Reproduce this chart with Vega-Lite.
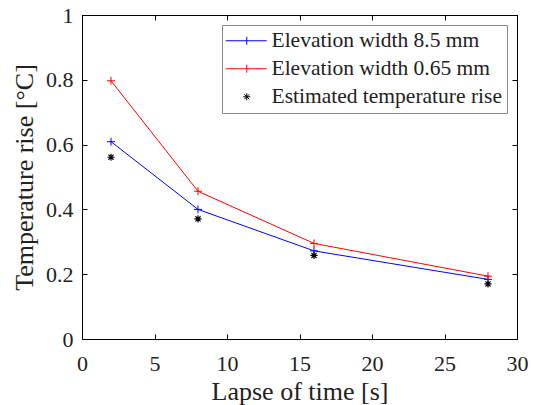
{
  "$schema": "https://vega.github.io/schema/vega-lite/v6.json",
  "width": 435,
  "height": 324,
  "autosize": {"type": "none"},
  "padding": {"left": 82, "top": 15, "right": 18, "bottom": 66},
  "background": "white",
  "config": {
    "font": "Liberation Serif",
    "view": {"stroke": "black", "strokeWidth": 1},
    "axis": {
      "grid": false,
      "domainColor": "black",
      "tickColor": "black",
      "labelColor": "#222222",
      "titleColor": "#222222",
      "labelFont": "Liberation Serif",
      "titleFont": "Liberation Serif",
      "labelFontSize": 22,
      "titleFontSize": 26,
      "titleFontWeight": "normal",
      "tickSize": -5,
      "labelFlush": false,
      "labelOverlap": false
    }
  },
  "data": {
    "values": [
      {"t": 2, "rise": 0.609, "series": "Elevation width 8.5 mm"},
      {"t": 8, "rise": 0.400, "series": "Elevation width 8.5 mm"},
      {"t": 16, "rise": 0.272, "series": "Elevation width 8.5 mm"},
      {"t": 28, "rise": 0.184, "series": "Elevation width 8.5 mm"},
      {"t": 2, "rise": 0.797, "series": "Elevation width 0.65 mm"},
      {"t": 8, "rise": 0.456, "series": "Elevation width 0.65 mm"},
      {"t": 16, "rise": 0.295, "series": "Elevation width 0.65 mm"},
      {"t": 28, "rise": 0.194, "series": "Elevation width 0.65 mm"},
      {"t": 2, "rise": 0.561, "series": "Estimated temperature rise"},
      {"t": 8, "rise": 0.371, "series": "Estimated temperature rise"},
      {"t": 16, "rise": 0.258, "series": "Estimated temperature rise"},
      {"t": 28, "rise": 0.170, "series": "Estimated temperature rise"}
    ]
  },
  "layer": [
    {
      "transform": [{"filter": "datum.series !== 'Estimated temperature rise'"}],
      "mark": {"type": "line", "strokeWidth": 1},
      "encoding": {
        "x": {
          "field": "t", "type": "quantitative",
          "scale": {"domain": [0, 30], "nice": false},
          "axis": {"title": "Lapse of time [s]", "values": [0, 5, 10, 15, 20, 25, 30], "labelPadding": 19, "titlePadding": 4}
        },
        "y": {
          "field": "rise", "type": "quantitative",
          "scale": {"domain": [0, 1], "nice": false},
          "axis": {"title": "Temperature rise [°C]", "values": [0, 0.2, 0.4, 0.6, 0.8, 1], "format": "~g", "labelPadding": 14, "titlePadding": 8}
        },
        "color": {
          "field": "series", "type": "nominal",
          "scale": {"domain": ["Elevation width 8.5 mm", "Elevation width 0.65 mm", "Estimated temperature rise"], "range": ["#0000ff", "#ff0000", "#000000"]},
          "legend": {
            "title": null,
            "orient": "top-right",
            "offset": 10,
            "strokeColor": "#888888",
            "fillColor": "white",
            "padding": 5,
            "symbolSize": 400,
            "symbolStrokeWidth": 1,
            "symbolFillColor": "transparent",
            "labelFont": "Liberation Serif",
            "labelFontSize": 21.5,
            "labelColor": "#222222",
            "labelLimit": 500,
            "labelOffset": 23,
            "rowPadding": 5,
            "encode": {
              "symbols": {
                "update": {
                  "shape": {"signal": "datum.value === 'Estimated temperature rise' ? 'M0.55,0H1.25M0.9,-0.35V0.35M0.65,-0.25L1.15,0.25M0.65,0.25L1.15,-0.25' : 'M-1.2,0H2.9M0.9,-0.4V0.4'"},
                  "fill": {"value": "transparent"},
                  "strokeWidth": {"value": 1},
                  "opacity": {"value": 1}
                }
              }
            }
          }
        }
      }
    },
    {
      "transform": [{"filter": "datum.series !== 'Estimated temperature rise'"}],
      "mark": {"type": "point", "filled": false, "strokeWidth": 1, "size": 64, "opacity": 1, "shape": "M-1,0H1M0,-1V1"},
      "encoding": {
        "x": {
          "field": "t", "type": "quantitative",
          "axis": {"orient": "top", "labels": false, "title": null, "values": [0, 5, 10, 15, 20, 25, 30]}
        },
        "y": {
          "field": "rise", "type": "quantitative",
          "axis": {"orient": "right", "labels": false, "title": null, "values": [0, 0.2, 0.4, 0.6, 0.8, 1]}
        },
        "color": {"field": "series", "type": "nominal"}
      }
    },
    {
      "transform": [{"filter": "datum.series === 'Estimated temperature rise'"}],
      "mark": {"type": "point", "filled": false, "strokeWidth": 1.2, "size": 64, "opacity": 1, "shape": "M-0.9,0H0.9M0,-0.9V0.9M-0.64,-0.64L0.64,0.64M-0.64,0.64L0.64,-0.64"},
      "encoding": {
        "x": {"field": "t", "type": "quantitative", "axis": null},
        "y": {"field": "rise", "type": "quantitative", "axis": null},
        "color": {"field": "series", "type": "nominal"}
      }
    }
  ],
  "resolve": {"axis": {"x": "independent", "y": "independent"}}
}
